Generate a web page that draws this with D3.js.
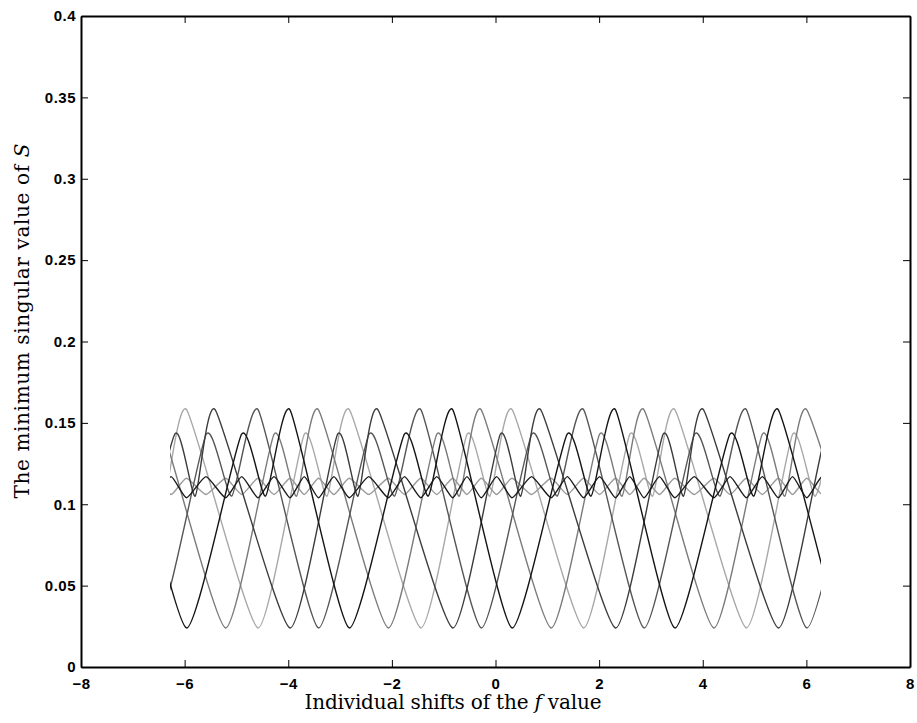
<!DOCTYPE html>
<html>
<head>
<meta charset="utf-8">
<script src="https://cdn.jsdelivr.net/npm/d3@7"></script>
<style>
  body { margin: 0; background: #fff; }
  text { fill: #000; }
</style>
</head>
<body>
<svg id="chart" width="917" height="723"></svg>
<script>
// axis ticks
const xTicks = [-8, -6, -4, -2, 0, 2, 4, 6, 8];
const yTicks = [0, 0.05, 0.1, 0.15, 0.2, 0.25, 0.3, 0.35, 0.4];
const shiftRange = [-6.2832, 6.2832];

// one curve per shifted f value, turning points [shift, sigma_min]
// (points just outside +-2pi only set the slope at the clipped ends)
const curve1 = [[-7.108,0.158],[-5.964,0.024],[-4.902,0.143],[-4.439,0.105],[-3.966,0.158],
  [-2.822,0.024],[-1.760,0.143],[-1.297,0.105],[-0.824,0.158],[0.319,0.024],[1.381,0.143],[1.844,0.105],[2.317,0.158],
  [3.461,0.024],[4.523,0.143],[4.986,0.105],[5.459,0.158],[6.603,0.024]];
const curve2 = [[-6.983,0.105],[-6.558,0.158],[-5.211,0.024],[-4.275,0.143],[-3.841,0.105],[-3.416,0.158],
  [-2.070,0.024],[-1.134,0.143],[-0.700,0.105],[-0.275,0.158],[1.072,0.024],[2.008,0.143],[2.442,0.105],[2.867,0.158],
  [4.213,0.024],[5.149,0.143],[5.583,0.105],[6.008,0.158],[7.355,0.024]];
const curve3 = [[-6.833,0.143],[-6.394,0.105],[-5.960,0.158],[-4.584,0.024],[-3.691,0.143],[-3.252,0.105],[-2.818,0.158],
  [-1.442,0.024],[-0.549,0.143],[-0.110,0.105],[0.324,0.158],[1.699,0.024],[2.592,0.143],[3.031,0.105],[3.465,0.158],
  [4.841,0.024],[5.734,0.143],[6.173,0.105],[6.607,0.158]];
const curve4 = [[-7.108,0.024],[-6.191,0.143],[-5.796,0.105],[-5.409,0.158],[-3.966,0.024],[-3.049,0.143],[-2.654,0.105],[-2.267,0.158],
  [-0.825,0.024],[0.092,0.143],[0.487,0.105],[0.874,0.158],[2.317,0.024],[3.234,0.143],[3.629,0.105],[4.016,0.158],
  [5.458,0.024],[6.375,0.143],[6.770,0.105]];
const curve5 = [[-7.722,0.158],[-6.558,0.024],[-5.583,0.143],[-5.091,0.105],[-4.580,0.158],[-3.416,0.024],[-2.441,0.143],[-1.949,0.105],[-1.438,0.158],
  [-0.275,0.024],[0.700,0.143],[1.192,0.105],[1.703,0.158],[2.867,0.024],[3.842,0.143],[4.334,0.105],[4.845,0.158],
  [6.008,0.024],[6.983,0.143]];
// the two nearly flat curves in the 0.10-0.12 band
const curve6 = [[-7.108,0.104],[-6.833,0.117],[-6.558,0.104],[-6.261,0.117],[-5.964,0.104],[-5.588,0.117],[-5.211,0.104],[-4.898,0.117],
  [-4.584,0.104],[-4.275,0.117],[-3.966,0.104],[-3.691,0.117],[-3.416,0.104],[-3.119,0.117],[-2.822,0.104],[-2.446,0.117],
  [-2.070,0.104],[-1.756,0.117],[-1.442,0.104],[-1.134,0.117],[-0.825,0.104],[-0.550,0.117],[-0.275,0.104],[0.022,0.117],
  [0.319,0.104],[0.696,0.117],[1.072,0.104],[1.386,0.117],[1.699,0.104],[2.008,0.117],[2.317,0.104],[2.592,0.117],
  [2.867,0.104],[3.164,0.117],[3.461,0.104],[3.837,0.117],[4.213,0.104],[4.527,0.117],[4.841,0.104],[5.150,0.117],
  [5.458,0.104],[5.733,0.117],[6.008,0.104],[6.306,0.117],[6.603,0.104]];
const curve7 = [[-7.108,0.116],[-6.833,0.106],[-6.558,0.116],[-6.261,0.106],[-5.964,0.116],[-5.588,0.106],[-5.211,0.116],[-4.898,0.106],
  [-4.584,0.116],[-4.275,0.106],[-3.966,0.116],[-3.691,0.106],[-3.416,0.116],[-3.119,0.106],[-2.822,0.116],[-2.446,0.106],
  [-2.070,0.116],[-1.756,0.106],[-1.442,0.116],[-1.134,0.106],[-0.825,0.116],[-0.550,0.106],[-0.275,0.116],[0.022,0.106],
  [0.319,0.116],[0.696,0.106],[1.072,0.116],[1.386,0.106],[1.699,0.116],[2.008,0.106],[2.317,0.116],[2.592,0.106],
  [2.867,0.116],[3.164,0.106],[3.461,0.116],[3.837,0.106],[4.213,0.116],[4.527,0.106],[4.841,0.116],[5.150,0.106],
  [5.458,0.116],[5.733,0.106],[6.008,0.116],[6.306,0.106],[6.603,0.116]];

const seriesList = [curve3, curve7, curve2, curve5, curve4, curve6, curve1];
const seriesColors = ["#a8a8a8", "#9a9a9a", "#7a7a7a", "#555", "#3c3c3c", "#1a1a1a", "#141414"];

const svg = d3.select("#chart");
const mLeft = 81, mRight = 910, mTop = 16, mBottom = 667;

const x = d3.scaleLinear().domain([-8, 8]).range([mLeft, mRight]);
const y = d3.scaleLinear().domain([0, 0.4]).range([mBottom, mTop]);

// curves only exist for shifts in [-2pi, 2pi]
svg.append("clipPath")
    .attr("id", "shiftClip")
    .append("rect")
    .attr("x", x(shiftRange[0]))
    .attr("y", mTop)
    .attr("width", x(shiftRange[1]) - x(shiftRange[0]))
    .attr("height", mBottom - mTop);

// cardinal with some tension: straight flanks, rounded turning points
const line = d3.line()
    .x((d) => x(d[0]))
    .y((d) => y(d[1]))
    .curve(d3.curveCardinal.tension(0.45));

svg.append("g")
    .attr("clip-path", "url(#shiftClip)")
    .selectAll("path")
    .data(seriesList)
    .enter()
    .append("path")
    .attr("d", line)
    .attr("fill", "none")
    .attr("stroke", (d, i) => seriesColors[i])
    .attr("stroke-width", 1.4)
    .attr("stroke-linejoin", "round");

// box and ticks (matlab style, ticks inside)
const fmtY = (d) => (d === 0 ? "0" : String(+d.toFixed(2)));

const xAxis = svg.append("g")
    .attr("transform", `translate(0,${mBottom})`)
    .call(d3.axisBottom(x).tickValues(xTicks).tickSizeInner(-7).tickSizeOuter(0).tickPadding(11));
const xTop = svg.append("g")
    .attr("transform", `translate(0,${mTop})`)
    .call(d3.axisTop(x).tickValues(xTicks).tickSizeInner(-7).tickSizeOuter(0).tickFormat(""));
const yAxis = svg.append("g")
    .attr("transform", `translate(${mLeft},0)`)
    .call(d3.axisLeft(y).tickValues(yTicks).tickSizeInner(-7).tickSizeOuter(0).tickPadding(5).tickFormat(fmtY));
const yRight = svg.append("g")
    .attr("transform", `translate(${mRight},0)`)
    .call(d3.axisRight(y).tickValues(yTicks).tickSizeInner(-7).tickSizeOuter(0).tickFormat(""));

[xAxis, xTop, yAxis, yRight].forEach((g) => {
    g.select(".domain").attr("stroke", "#000").attr("stroke-width", 2);
    g.selectAll(".tick line").attr("stroke", "#000").attr("stroke-width", 1);
    g.selectAll(".tick text")
        .style("font-family", "'Liberation Sans', Arial, sans-serif")
        .style("font-size", "15px")
        .style("font-weight", "bold")
        .style("letter-spacing", "0.5px");
});

// axis labels
svg.append("text")
    .attr("x", 453)
    .attr("y", 709)
    .attr("text-anchor", "middle")
    .attr("textLength", 297)
    .attr("lengthAdjust", "spacing")
    .style("font-family", "'DejaVu Serif', 'Liberation Serif', serif")
    .style("font-size", "20px")
    .html("Individual shifts of the <tspan font-style='italic'>f</tspan> value");

svg.append("text")
    .attr("transform", "translate(29,321) rotate(-90)")
    .attr("text-anchor", "middle")
    .attr("textLength", 355)
    .attr("lengthAdjust", "spacing")
    .style("font-family", "'DejaVu Serif', 'Liberation Serif', serif")
    .style("font-size", "20px")
    .html("The minimum singular value of <tspan font-style='italic'>S</tspan>");
</script>
</body>
</html>
